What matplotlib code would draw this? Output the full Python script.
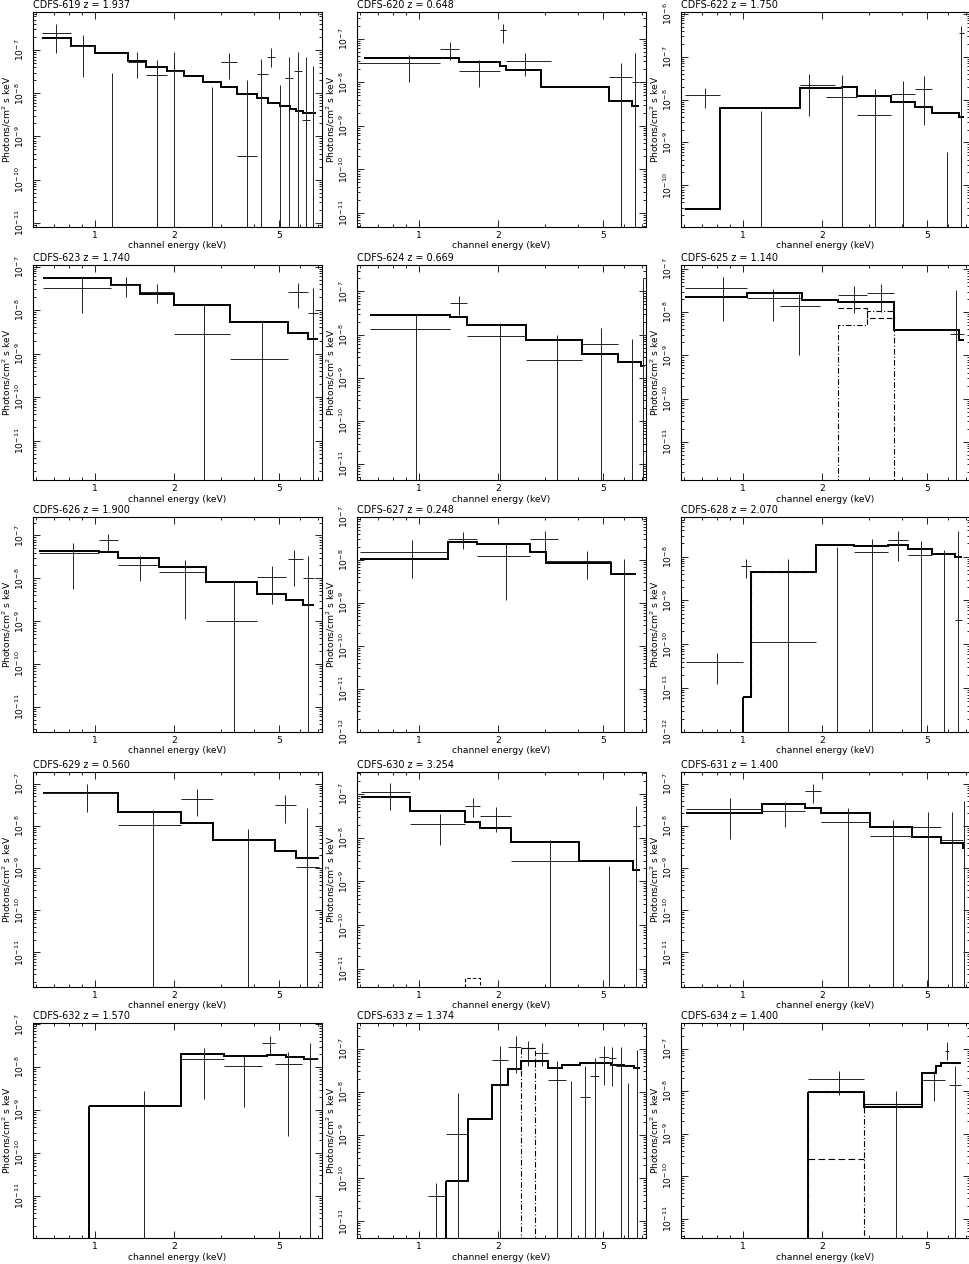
import math
import matplotlib
matplotlib.use("Agg")
import matplotlib.pyplot as plt
from matplotlib.ticker import FixedLocator, NullFormatter, FuncFormatter

# ---------------- data ----------------
# data rows: (x centre, x low, x high, y, y err low, y err high); None = off the plot / not drawn
XLIM = (0.585, 7.25)

title_619 = "CDFS-619 z = 1.937"
ylim_619 = (8e-12, 7.6e-7)
model_619_edges = [0.63, 0.816, 1.0, 1.34, 1.57, 1.885, 2.17, 2.58, 3.02, 3.45, 4.1, 4.53, 5.02, 5.47, 5.8, 6.16, 6.52, 6.9]
model_619_vals = [1.86e-7, 1.24e-7, 8.4e-8, 5.6e-8, 3.98e-8, 3.3e-8, 2.56e-8, 1.8e-8, 1.38e-8, 9.8e-9, 7.96e-9, 5.9e-9, 5.1e-9, 4.4e-9, 3.9e-9, 3.5e-9, 3.4e-9]
data_619 = [
    (0.717, 0.63, 0.816, 2.42e-7, 8.4e-8, 3.98e-7),
    (0.904, 0.816, 1.0, 1.26e-7, 2.4e-8, 2.2e-7),
    (1.16, None, None, None, None, 3.0e-8),
    (1.45, 1.34, 1.57, 5.4e-8, 2.2e-8, 9.2e-8),
    (1.72, 1.57, 1.885, 2.6e-8, None, 5.9e-8),
    (2.0, 1.885, 2.17, 3.3e-8, None, 8.8e-8),
    (2.79, None, None, None, None, 1.38e-8),
    (3.23, 3.02, 3.45, 5.4e-8, 2.1e-8, 8.4e-8),
    (3.76, 3.45, 4.1, 3.5e-10, None, 2.03e-8),
    (4.28, 4.1, 4.53, 2.8e-8, None, 6.1e-8),
    (4.64, 4.48, 4.8, 7.0e-8, 4.1e-8, 1.13e-7),
    (5.02, None, None, None, None, 1.58e-8),
    (5.44, 5.25, 5.62, 2.3e-8, None, 6.8e-8),
    (5.89, 5.7, 6.1, 3.3e-8, None, 8.8e-8),
    (6.28, 6.07, 6.52, 2.4e-9, None, 7.0e-8),
    (6.7, None, None, None, None, 4.35e-8),
]

title_620 = "CDFS-620 z = 0.648"
ylim_620 = (4.75e-12, 4.1e-7)
model_620_edges = [0.623, 1.42, 2.03, 2.15, 2.9, 5.25, 6.43, 6.85]
model_620_vals = [3.65e-8, 2.9e-8, 2.4e-8, 1.9e-8, 7.6e-9, 3.65e-9, 2.9e-9]
data_620 = [
    (0.922, 0.588, 1.21, 2.8e-8, 1.02e-8, 4.3e-8),
    (1.31, 1.21, 1.42, 5.9e-8, 3.3e-8, 8.4e-8),
    (1.69, 1.42, 2.03, 1.86e-8, 7.6e-9, 3.3e-8),
    (2.09, 2.03, 2.15, 1.56e-7, 8.1e-8, 2.2e-7),
    (2.52, 2.15, 3.16, 3.05e-8, 1.37e-8, 4.75e-8),
    (5.83, 5.25, 6.43, 1.3e-8, None, 2.7e-8),
    (6.6, 6.43, 6.85, 1.0e-8, None, 4.75e-8),
]

title_622 = "CDFS-622 z = 1.750"
ylim_622 = (1.07e-11, 1.1e-6)
model_622_edges = [0.607, 0.82, 1.645, 2.38, 2.72, 3.63, 4.48, 5.21, 6.6, 6.87]
model_622_vals = [2.87e-11, 6.4e-9, 1.87e-8, 1.95e-8, 1.2e-8, 9e-9, 6.8e-9, 4.8e-9, 3.9e-9]
data_622 = [
    (0.723, 0.607, 0.82, 1.28e-8, 6.4e-9, 1.87e-8),
    (1.17, None, None, None, None, 5.5e-9),
    (1.785, 1.645, 2.24, 2.2e-8, 4.2e-9, 3.95e-8),
    (2.38, 2.06, 2.72, 1.13e-8, None, 3.8e-8),
    (3.17, 2.72, 3.63, 4.4e-9, None, 1.77e-8),
    (4.04, 3.63, 4.48, 1.33e-8, None, 2.77e-8),
    (4.85, 4.48, 5.21, 1.77e-8, 2.5e-9, 3.6e-8),
    (5.95, None, None, None, None, 5.85e-10),
    (6.72, 6.6, 6.87, 3.5e-7, None, 5.3e-7),
]

title_623 = "CDFS-623 z = 1.740"
ylim_623 = (1.24e-12, 1.09e-7)
model_623_edges = [0.64, 1.155, 1.48, 1.99, 3.26, 5.37, 6.44, 7.03]
model_623_vals = [5.6e-8, 3.85e-8, 2.4e-8, 1.3e-8, 5.4e-9, 2.9e-9, 2.2e-9]
data_623 = [
    (0.898, 0.64, 1.155, 3.3e-8, 8.8e-9, 5.4e-8),
    (1.32, 1.155, 1.48, 3.85e-8, 2.0e-8, 5.8e-8),
    (1.73, 1.48, 1.99, 2.65e-8, 1.42e-8, 3.9e-8),
    (2.59, 1.99, 3.26, 2.8e-9, None, 1.3e-8),
    (4.29, 3.26, 5.37, 7.4e-10, None, 5.6e-9),
    (5.9, 5.37, 6.44, 2.65e-8, 1.13e-8, 4.3e-8),
    (6.72, 6.44, 7.03, 8.4e-9, None, 3.3e-8),
]

title_624 = "CDFS-624 z = 0.669"
ylim_624 = (4.3e-12, 4.1e-7)
model_624_edges = [0.657, 1.317, 1.52, 2.55, 4.14, 5.69, 6.95, 7.1]
model_624_vals = [2.9e-8, 2.5e-8, 1.64e-8, 7.7e-9, 3.6e-9, 2.3e-9, 1.9e-9]
data_624 = [
    (0.98, 0.657, 1.317, 1.37e-8, None, 2.9e-8),
    (1.42, 1.317, 1.52, 5.4e-8, 2.8e-8, 7.9e-8),
    (2.03, 1.52, 2.55, 9.2e-9, None, 1.86e-8),
    (3.35, 2.55, 4.14, 2.6e-9, None, 1.0e-8),
    (4.9, 4.14, 5.69, 6.1e-9, None, 1.42e-8),
    (6.39, None, None, None, None, 7.95e-9),
    (7.05, 6.95, 7.15, 1.9e-9, None, 2.1e-7),
]

title_625 = "CDFS-625 z = 1.140"
ylim_625 = (1.3e-12, 1.24e-7)
model_625_edges = [0.607, 1.044, 1.675, 2.3, 2.96, 3.73, 6.57, 6.9]
model_625_vals = [2.25e-8, 2.8e-8, 1.87e-8, 1.71e-8, 1.77e-8, 3.95e-9, 2.3e-9]
comp_625_dash_edges = [2.3, 2.96, 3.73]
comp_625_dash_vals = [1.24e-8, 7.5e-9]
comp_625_dashdot_edges = [2.3, 2.96, 3.73]
comp_625_dashdot_vals = [5.1e-9, 1.04e-8]
data_625 = [
    (0.84, 0.607, 1.044, 3.6e-8, 6.3e-9, 6.7e-8),
    (1.3, 1.044, 1.675, 2.1e-8, 6.3e-9, 3.5e-8),
    (1.64, 1.38, 1.97, 1.36e-8, 1.04e-9, 2.6e-8),
    (2.64, 2.3, 2.96, 2.55e-8, 9.5e-9, 4.1e-8),
    (3.35, 2.96, 3.73, 2.75e-8, 1.03e-8, 4.45e-8),
    (6.43, 6.1, 6.9, 3.1e-9, None, 3.2e-8),
]

title_626 = "CDFS-626 z = 1.900"
ylim_626 = (2.6e-12, 2.7e-7)
model_626_edges = [0.616, 1.036, 1.227, 1.755, 2.63, 4.12, 5.3, 6.12, 6.74]
model_626_vals = [4.35e-8, 4.1e-8, 2.95e-8, 1.8e-8, 8.1e-9, 4.3e-9, 3.05e-9, 2.4e-9]
data_626 = [
    (0.827, 0.616, 1.036, 3.8e-8, 5.5e-9, 6.8e-8),
    (1.125, 1.036, 1.227, 7.7e-8, 4.35e-8, 1.1e-7),
    (1.49, 1.227, 1.755, 2.06e-8, 8.5e-9, 3.3e-8),
    (2.2, 1.755, 2.63, 1.42e-8, 1.1e-9, 2.65e-8),
    (3.36, 2.63, 4.12, 1.03e-9, None, 8.1e-9),
    (4.67, 4.12, 5.3, 1.1e-8, 2.5e-9, 1.97e-8),
    (5.7, 5.4, 6.12, 2.9e-8, 6.5e-9, 4.6e-8),
    (6.4, 6.12, 6.74, 1.0e-8, None, 3.3e-8),
]

title_627 = "CDFS-627 z = 0.248"
ylim_627 = (1e-12, 1e-7)
model_627_edges = [0.60, 1.29, 1.67, 2.64, 3.04, 5.36, 6.64]
model_627_vals = [1.05e-8, 2.56e-8, 2.34e-8, 1.55e-8, 8.3e-9, 4.7e-9]
data_627 = [
    (0.947, 0.60, 1.29, 1.5e-8, 3.8e-9, 2.9e-8),
    (1.47, 1.29, 1.67, 3.0e-8, 1.85e-8, 4.5e-8),
    (2.15, 1.67, 2.64, 1.26e-8, 1.2e-9, 2.5e-8),
    (3.0, 2.64, 3.36, 3.1e-8, 1.6e-8, 4.7e-8),
    (4.32, 3.04, 5.36, 9.5e-9, 3.6e-9, 1.65e-8),
    (6.0, None, None, None, None, 1.05e-8),
]

title_628 = "CDFS-628 z = 2.070"
ylim_628 = (1e-12, 8e-8)
model_628_edges = [1.0, 1.075, 1.9, 2.64, 3.56, 4.23, 5.21, 6.35, 6.79]
model_628_vals = [6.4e-12, 4.5e-9, 1.8e-8, 1.7e-8, 1.8e-8, 1.5e-8, 1.15e-8, 9.6e-9]
comp_628_dash_edges = [1.0, 1.075, 1.9]
comp_628_dash_vals = [6.4e-12, 4.5e-9]
data_628 = [
    (0.8, 0.61, 1.0, 3.98e-11, 1.26e-11, 6.4e-11),
    (1.03, 0.99, 1.075, 6.0e-9, 3.2e-9, 8.8e-9),
    (1.48, 1.075, 1.9, 1.1e-10, None, 8.8e-9),
    (2.27, None, None, None, None, 1.64e-8),
    (3.1, 2.64, 3.56, 1.26e-8, None, 2.55e-8),
    (3.88, 3.56, 4.23, 2.34e-8, 8.1e-9, 3.8e-8),
    (4.72, 4.23, 5.21, 1.1e-8, None, 2.3e-8),
    (5.8, None, None, None, None, 1.4e-8),
    (6.54, 6.35, 6.79, 3.65e-10, None, 3.9e-8),
]

title_629 = "CDFS-629 z = 0.560"
ylim_629 = (1.5e-12, 1.9e-7)
model_629_edges = [0.638, 1.23, 2.12, 2.81, 4.82, 5.8, 7.05]
model_629_vals = [6.0e-8, 2.15e-8, 1.14e-8, 4.6e-9, 2.5e-9, 1.75e-9]
data_629 = [
    (0.94, 0.638, 1.23, 6.0e-8, 2.1e-8, 9.7e-8),
    (1.67, 1.23, 2.12, 1.05e-8, None, 2.4e-8),
    (2.45, 2.12, 2.81, 4.25e-8, 1.73e-8, 7.7e-8),
    (3.81, None, None, None, None, 8.3e-9),
    (5.25, 4.82, 5.8, 3.2e-8, 1.2e-8, 5.4e-8),
    (6.34, 5.8, 7.05, 1.04e-9, None, 2.7e-8),
]

title_630 = "CDFS-630 z = 3.254"
ylim_630 = (3.9e-12, 3.16e-7)
model_630_edges = [0.607, 0.93, 1.5, 1.71, 2.24, 4.04, 6.48, 6.87]
model_630_vals = [8.5e-8, 3.98e-8, 2.3e-8, 1.7e-8, 7.9e-9, 2.9e-9, 1.8e-9]
comp_630_dash_edges = [1.5, 1.71]
comp_630_dash_vals = [6.1e-12]
data_630 = [
    (0.78, 0.607, 0.93, 1.1e-7, 4.2e-8, 1.8e-7),
    (1.21, 0.93, 1.5, 2.1e-8, 6.7e-9, 3.5e-8),
    (1.6, 1.5, 1.71, 5.4e-8, 2.9e-8, 8.1e-8),
    (1.96, 1.71, 2.24, 3.2e-8, 1.35e-8, 5.0e-8),
    (3.14, 2.24, 4.04, 2.9e-9, None, 9.0e-9),
    (5.25, None, None, None, None, 2.3e-9),
    (6.67, 6.48, 6.87, 1.83e-8, None, 5.4e-8),
]

title_631 = "CDFS-631 z = 1.400"
ylim_631 = (1.5e-12, 1.9e-7)
model_631_edges = [0.61, 1.18, 1.73, 1.98, 3.04, 4.39, 5.62, 6.8, 6.95]
model_631_vals = [1.97e-8, 3.28e-8, 2.73e-8, 2.0e-8, 9.5e-9, 5.5e-9, 3.87e-9, 3.05e-9]
data_631 = [
    (0.9, 0.61, 1.18, 2.5e-8, 4.8e-9, 4.5e-8),
    (1.45, 1.18, 1.73, 2.27e-8, 9.6e-9, 3.6e-8),
    (1.85, 1.73, 1.98, 6.8e-8, 3.4e-8, 9.8e-8),
    (2.51, 1.98, 3.04, 1.25e-8, None, 2.6e-8),
    (3.72, 3.04, 4.39, 5.6e-9, None, 1.36e-8),
    (5.04, 4.39, 5.62, 9.5e-9, None, 2.1e-8),
    (6.2, 5.62, 6.8, 4.6e-9, None, 2.15e-8),
    (6.9, None, None, None, None, 3.9e-8),
]

title_632 = "CDFS-632 z = 1.570"
ylim_632 = (1.05e-12, 1.07e-7)
model_632_edges = [0.95, 2.13, 3.09, 4.5, 5.29, 6.2, 6.98]
model_632_vals = [1.24e-9, 2.03e-8, 1.83e-8, 1.93e-8, 1.7e-8, 1.53e-8]
data_632 = [
    (1.54, None, None, None, None, 2.75e-9),
    (2.59, 2.13, 3.09, 1.53e-8, 1.85e-9, 2.75e-8),
    (3.67, 3.09, 4.3, 1.04e-8, 1.2e-9, 1.8e-8),
    (4.6, 4.3, 4.8, 3.6e-8, 2.0e-8, 5.3e-8),
    (5.4, 4.8, 6.1, 1.19e-8, 2.5e-10, 2.2e-8),
    (6.55, 6.2, 6.98, 1.6e-8, None, 3.6e-8),
]

title_633 = "CDFS-633 z = 1.374"
ylim_633 = (4.1e-12, 4e-7)
model_633_edges = [1.27, 1.535, 1.89, 2.17, 2.44, 2.76, 3.1, 3.5, 4.09, 5.34, 5.96, 6.54, 6.89]
model_633_vals = [8.7e-11, 2.4e-9, 1.43e-8, 3.5e-8, 5.2e-8, 5.2e-8, 3.65e-8, 4.35e-8, 4.75e-8, 4.35e-8, 4.0e-8, 3.65e-8]
comp_633_line_edges = [2.44, 2.76]
comp_633_line_vals = [1.05e-7]
comp_633_dashdot_edges = [2.44, 2.76]
comp_633_dashdot_vals = [1.05e-7]
data_633 = [
    (1.166, 1.09, 1.27, 3.8e-11, None, 7.9e-11),
    (1.41, 1.27, 1.535, 1.04e-9, None, 9.5e-9),
    (2.03, 1.89, 2.17, 5.5e-8, None, 1.2e-7),
    (2.34, 2.17, 2.44, 1.1e-7, 2.8e-8, 1.96e-7),
    (2.6, None, None, None, 4.0e-8, 1.5e-7),
    (2.93, 2.76, 3.1, 8.1e-8, 4.0e-8, 1.38e-7),
    (3.34, 3.1, 3.6, 1.9e-8, None, 5.2e-8),
    (3.77, None, None, None, None, 1.8e-8),
    (4.27, 4.09, 4.45, 7.5e-9, None, 4.1e-8),
    (4.64, 4.45, 4.83, 2.3e-8, None, 6.2e-8),
    (5.04, 4.83, 5.25, 6.4e-8, 1.42e-8, 1.15e-7),
    (5.38, 5.25, 5.6, 6.2e-8, 1.35e-8, 1.1e-7),
    (5.83, 5.6, 6.05, 4.0e-8, None, 1.1e-7),
    (6.2, None, None, None, None, 1.6e-8),
    (6.72, None, None, None, None, 9.7e-8),
]

title_634 = "CDFS-634 z = 1.400"
ylim_634 = (3.5e-12, 4e-7)
model_634_edges = [1.775, 2.89, 4.76, 5.39, 5.62, 6.7]
model_634_vals = [9.5e-9, 4.27e-9, 2.65e-8, 3.85e-8, 4.5e-8]
comp_634_line_edges = [2.89, 4.76]
comp_634_line_vals = [4.9e-9]
comp_634_dash_edges = [1.775, 2.89]
comp_634_dash_vals = [2.55e-10]
comp_634_dashdot_edges = [1.775, 2.89]
comp_634_dashdot_vals = [9.5e-9]
data_634 = [
    (2.32, 1.775, 2.89, 1.95e-8, 8e-9, 3.05e-8),
    (3.8, None, None, None, None, 1.0e-8),
    (5.28, 4.76, 5.85, 1.85e-8, 5.7e-9, 2.9e-8),
    (5.94, 5.85, 6.05, 9.0e-8, 5.5e-8, 1.4e-7),
    (6.36, 6.05, 6.7, 1.4e-8, None, 3.8e-8),
]

x_major_ticks = [1, 2, 5]
x_minor_ticks = [0.6, 0.7, 0.8, 0.9, 3, 4, 6, 7]

# ---------------- figure ----------------
W, H = 970, 1264
fig = plt.figure(figsize=(W / 100, H / 100), dpi=100)

col_left = [33, 357, 681]
row_top = [12, 265, 517, 772, 1023]
AX_W, AX_H = 289, 215
BOTTOM = 1e-30
FS = 6.6
DATA_C = '#222222'

panels = [
    (title_619, ylim_619, model_619_edges, model_619_vals, data_619, False, []),
    (title_620, ylim_620, model_620_edges, model_620_vals, data_620, False, []),
    (title_622, ylim_622, model_622_edges, model_622_vals, data_622, False, []),
    (title_623, ylim_623, model_623_edges, model_623_vals, data_623, False, []),
    (title_624, ylim_624, model_624_edges, model_624_vals, data_624, False, []),
    (title_625, ylim_625, model_625_edges, model_625_vals, data_625, False,
     [(comp_625_dash_edges, comp_625_dash_vals, (0, (5, 2.5)), False),
      (comp_625_dashdot_edges, comp_625_dashdot_vals, (0, (5, 2, 1, 2)), True)]),
    (title_626, ylim_626, model_626_edges, model_626_vals, data_626, False, []),
    (title_627, ylim_627, model_627_edges, model_627_vals, data_627, False, []),
    (title_628, ylim_628, model_628_edges, model_628_vals, data_628, True,
     [(comp_628_dash_edges, comp_628_dash_vals, (0, (5, 2.5)), False)]),
    (title_629, ylim_629, model_629_edges, model_629_vals, data_629, False, []),
    (title_630, ylim_630, model_630_edges, model_630_vals, data_630, False,
     [(comp_630_dash_edges, comp_630_dash_vals, (0, (3, 2)), True)]),
    (title_631, ylim_631, model_631_edges, model_631_vals, data_631, False, []),
    (title_632, ylim_632, model_632_edges, model_632_vals, data_632, True, []),
    (title_633, ylim_633, model_633_edges, model_633_vals, data_633, True,
     [(comp_633_line_edges, comp_633_line_vals, '-', False),
      (comp_633_dashdot_edges, comp_633_dashdot_vals, (0, (5, 2, 1, 2)), True)]),
    (title_634, ylim_634, model_634_edges, model_634_vals, data_634, True,
     [(comp_634_line_edges, comp_634_line_vals, '-', False),
      (comp_634_dash_edges, comp_634_dash_vals, (0, (6, 3)), False),
      (comp_634_dashdot_edges, comp_634_dashdot_vals, (0, (5, 2, 1, 2)), True)]),
]


def decade_ticks(lo, hi):
    e0 = math.floor(math.log10(lo)) - 1
    e1 = math.ceil(math.log10(hi)) + 1
    major = [10.0 ** e for e in range(e0, e1 + 1) if lo * 0.999 <= 10.0 ** e <= hi * 1.001]
    minor = [m * 10.0 ** e for e in range(e0, e1 + 1) for m in range(2, 10)
             if lo <= m * 10.0 ** e <= hi]
    return major, minor


def log_label(v, p):
    e = int(round(math.log10(v)))
    return r"$10^{%d}$" % e


for i, (title, ylim, medges, mvals, rows, from_bottom, comps) in enumerate(panels):
    r, c = divmod(i, 3)
    left = col_left[c]
    top = row_top[r]
    ax = fig.add_axes([left / W, 1 - (top + AX_H) / H, AX_W / W, AX_H / H])
    ax.set_xscale('log')
    ax.set_yscale('log')

    # data points with error bars
    for xc, xlo, xhi, y, ylo, yhi in rows:
        lo = ylo if ylo is not None else BOTTOM
        ax.vlines(xc, lo, yhi, color=DATA_C, lw=0.7)
        if y is not None:
            ax.hlines(y, xlo, xhi, color=DATA_C, lw=0.7)

    # model
    ax.stairs(mvals, medges, baseline=None, color='black', lw=1.4)
    if from_bottom:
        ax.vlines(medges[0], BOTTOM, mvals[0], color='black', lw=1.4)

    # components
    for ce, cv, ls, closed in comps:
        ax.stairs(cv, ce, baseline=(BOTTOM if closed else None), color='black',
                  lw=0.8, linestyle=ls)

    ax.set_xlim(XLIM)
    ax.set_ylim(ylim)
    ax.xaxis.set_major_locator(FixedLocator(x_major_ticks))
    ax.xaxis.set_major_formatter(FuncFormatter(lambda v, p: f"{v:g}"))
    ax.xaxis.set_minor_locator(FixedLocator(x_minor_ticks))
    ax.xaxis.set_minor_formatter(NullFormatter())
    ymaj, ymin = decade_ticks(*ylim)
    ax.yaxis.set_major_locator(FixedLocator(ymaj))
    ax.yaxis.set_major_formatter(FuncFormatter(log_label))
    ax.yaxis.set_minor_locator(FixedLocator(ymin))
    ax.yaxis.set_minor_formatter(NullFormatter())
    ax.tick_params(which='both', direction='in', top=True, right=True,
                   labelsize=FS, width=0.6)
    ax.tick_params(axis='x', pad=3)
    ax.tick_params(axis='y', pad=5, labelrotation=90)
    ax.tick_params(which='major', length=5)
    ax.tick_params(which='minor', length=2.5)
    for lab in ax.get_yticklabels():
        lab.set_va('center')
    for s in ax.spines.values():
        s.set_linewidth(0.8)

    fig.text(left / W, 1 - (top - 7) / H, title, fontsize=FS + 0.3,
             ha='left', va='center')
    fig.text((left - 26) / W, 1 - (top + AX_H / 2) / H, "Photons/cm$^2$ s keV",
             fontsize=FS, rotation=90, ha='center', va='center')
    fig.text((left + AX_W / 2) / W, 1 - (top + AX_H + 19) / H,
             "channel energy (keV)", fontsize=FS, ha='center', va='center')

fig.savefig("out.png", dpi=100)
